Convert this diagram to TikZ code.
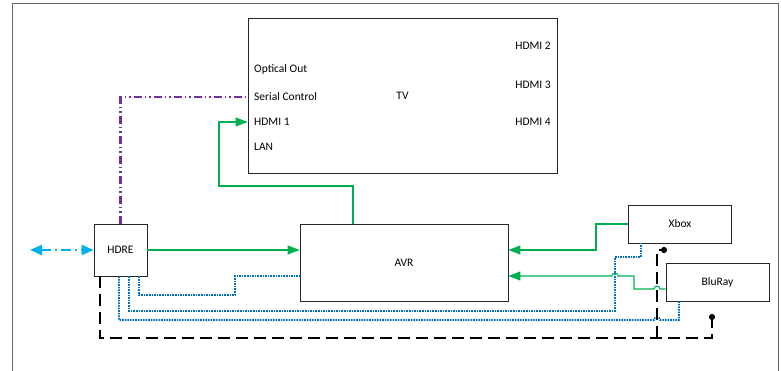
\documentclass[tikz,border=0pt]{standalone}
\usepackage{fontspec}
\setmainfont{Carlito}
\usetikzlibrary{arrows.meta}
\definecolor{hdmigreen}{RGB}{0,176,80}
\definecolor{irblue}{RGB}{0,112,192}
\definecolor{serialpurple}{RGB}{112,48,160}
\definecolor{netcyan}{RGB}{0,176,240}
\begin{document}
\begin{tikzpicture}[x=1pt,y=1pt]
\tikzstyle{device}=[rectangle, draw=black!85, line width=0.8pt, inner sep=2pt, font=\fontsize{11.5}{13}\selectfont]
\tikzstyle{port}=[inner sep=0pt, font=\fontsize{11.5}{13}\selectfont]
\tikzstyle{hdmi}=[draw=hdmigreen, line width=1.1pt]
\tikzstyle{hdmiin}=[hdmi, -{Triangle[length=12pt,width=9pt]}]
\tikzstyle{ir}=[draw=irblue, line width=1.7pt, dash pattern=on 1.6pt off 1pt]
\tikzstyle{serial}=[draw=serialpurple, line width=2.2pt, dash pattern=on 8pt off 3pt on 1.5pt off 3pt on 1.5pt off 3pt]
\tikzstyle{power}=[draw=black, line width=2pt, dash pattern=on 12pt off 6pt]
\tikzstyle{network}=[draw=netcyan, line width=2.2pt, dash pattern=on 10pt off 4pt on 2pt off 4pt, {Triangle[length=12pt,width=10pt]}-{Triangle[length=12pt,width=10pt]}]

\useasboundingbox (0,0) rectangle (781,371);

% Frame
\draw[black!60, line width=1pt] (12,0) |- (778,367) -- (778,0);

% TV and its ports
\node[device, minimum width=309pt, minimum height=155pt] (tv) at (402.5,275.5) {TV};
\node[port, anchor=west] (optical) at (254,302) {Optical Out};
\node[port, anchor=west] (serialctl) at (254,274) {Serial Control};
\node[port, anchor=west] (hdmia) at (254,249) {HDMI 1};
\node[port, anchor=west] (lan) at (254,224) {LAN};
\node[port, anchor=east] (hdmib) at (551,325) {HDMI 2};
\node[port, anchor=east] (hdmic) at (551,286) {HDMI 3};
\node[port, anchor=east] (hdmid) at (551,249) {HDMI 4};

% Devices
\node[device, minimum width=53pt, minimum height=52pt] (hdre) at (120.5,121) {HDRE};
\node[device, minimum width=208pt, minimum height=77pt] (avr) at (404,108.5) {AVR};
\node[device, minimum width=103pt, minimum height=38pt] (xbox) at (680,147) {Xbox};
\node[device, minimum width=103pt, minimum height=38pt] (bluray) at (717.5,89) {BluRay};

% Free ends and bends
\coordinate (wan) at (30,121);
\coordinate (tvloop) at (219,185);
\coordinate (xboxbend) at (596,121);
\coordinate (pwrtap) at (657,33);
\coordinate (xbpwr) at (667,121);
\coordinate (brpwr) at (712,57);

% Network
\draw[network] (wan) -- (hdre.west);

% Serial control
\draw[serial] (hdre.north) |- (tv.west |- serialctl);

% HDMI
\draw[hdmiin] (hdre.east) -- (avr.west |- hdre.east);
\draw[hdmiin] ([xshift=-51pt]avr.north) |- (tvloop) |- (tv.west |- hdmia);
\draw[hdmiin] (xbox.west) -| (xboxbend) -- (avr.east |- xboxbend);
\draw[hdmiin] ([yshift=-7pt]bluray.west) -- (660,82) arc[start angle=0,end angle=180,radius=3pt]
  -- (634,82) |- (618,95) arc[start angle=0,end angle=180,radius=3pt] -- ([yshift=-13.5pt]avr.east);

% IR
\draw[ir] ([xshift=18.5pt]hdre.south) |- (235,76) |- ([yshift=-13.5pt]avr.west);
\draw[ir] ([xshift=8.5pt]hdre.south) |- (615,60) |- (641,114) -- ([xshift=-39pt]xbox.south);
\draw[ir] ([xshift=-1.5pt]hdre.south) |- (654,51) arc[start angle=180,end angle=0,radius=3pt]
  -| ([xshift=-38.5pt]bluray.south);

% Power
\draw[power, -{Circle[length=6pt]}] ([xshift=-20.5pt]hdre.south) |- (brpwr |- pwrtap) -- (brpwr);
\draw[power, -{Circle[length=6pt]}] (pwrtap) |- (xbpwr);
\end{tikzpicture}
\end{document}
